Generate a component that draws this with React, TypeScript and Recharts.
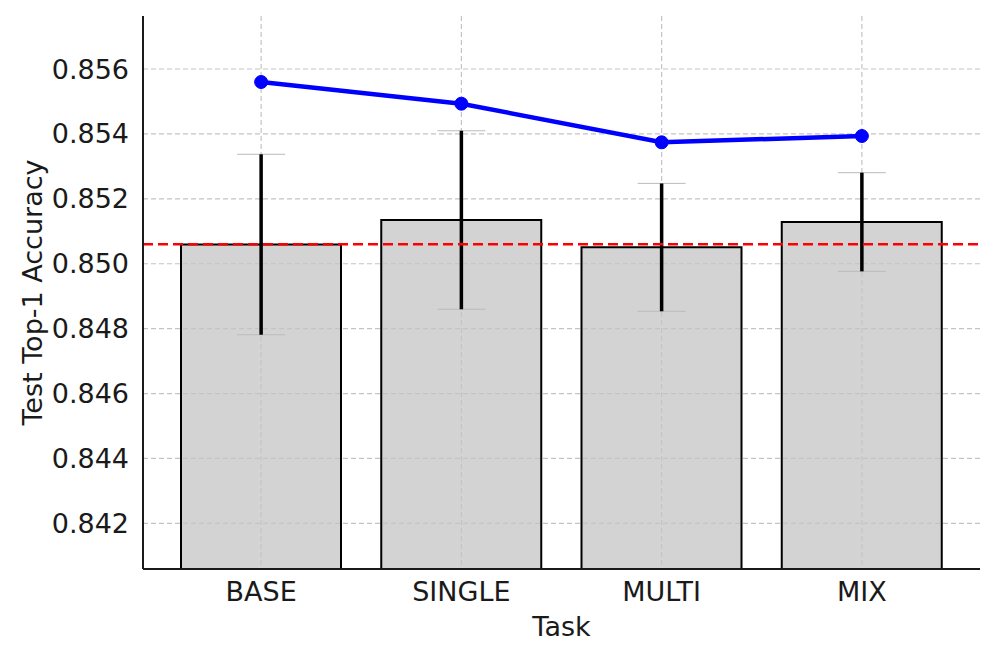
import React from 'react';
import { ComposedChart, Bar, Line, XAxis, YAxis, CartesianGrid, ErrorBar, ReferenceLine } from 'recharts';

const tasks = ['BASE', 'SINGLE', 'MULTI', 'MIX'];
const meanAcc = [0.850592, 0.851347, 0.850505, 0.851285];
const stdAcc = [0.00278, 0.00275, 0.00197, 0.00152];
const bestAcc = [0.855599, 0.854931, 0.853741, 0.853935];
const baselineAcc = 0.8506;
const yTicks = [0.842, 0.844, 0.846, 0.848, 0.85, 0.852, 0.854, 0.856];
const yDomain = [0.840594, 0.857633];

const data = tasks.map((t, i) => ({ task: t, mean: meanAcc[i], err: stdAcc[i], best: bestAcc[i] }));

const FONT = 'DejaVu Sans';

const YLabel = (props: any) => {
  const vb = props.viewBox || {};
  const cy = vb.y + vb.height / 2;
  const cx = 32;
  return (
    <text x={cx} y={cy} transform={`rotate(-90, ${cx}, ${cy})`} textAnchor="middle" dominantBaseline="central"
      fontFamily={FONT} fontSize={27} fill="#1a1a1a">Test Top-1 Accuracy</text>
  );
};

export default function App() {
  return (
    <div style={{ position: 'absolute', left: 0, top: 0, width: 998, height: 659, background: '#fff' }}>
      <ComposedChart width={998} height={659} data={data} margin={{ top: 16, right: 18, left: 0, bottom: 0 }}>
        <XAxis dataKey="task" padding={{ left: 18, right: 18 }} height={90} axisLine={{ stroke: '#1a1a1a', strokeWidth: 2 }}
          tickLine={false} tick={{ fontFamily: FONT, fontSize: 27, fill: '#1a1a1a' }} tickMargin={7}
          label={{ value: 'Task', position: 'insideBottom', offset: 23, style: { fontFamily: FONT, fontSize: 27, fill: '#1a1a1a' } }} />
        <YAxis type="number" domain={yDomain} allowDataOverflow ticks={yTicks} width={143}
          tickFormatter={(v: number) => v.toFixed(3)} axisLine={{ stroke: '#1a1a1a', strokeWidth: 2 }} tickLine={false}
          tick={{ fontFamily: FONT, fontSize: 27, fill: '#1a1a1a' }} tickMargin={8}
          label={{ content: YLabel }} />
        <Bar dataKey="mean" barSize={160} fill="#d3d3d3" stroke="#000" strokeWidth={2} isAnimationActive={false} />
        <CartesianGrid stroke="#c4c4c4" strokeDasharray="5 3" strokeWidth={1.2} zIndex={320} syncWithTicks />
        <Line dataKey="mean" stroke="none" dot={false} activeDot={false} isAnimationActive={false} legendType="none">
          <ErrorBar dataKey="err" width={24} stroke="#bbbbbb" strokeWidth={1} isAnimationActive={false} />
          <ErrorBar dataKey="err" width={0} stroke="#000" strokeWidth={3.5} isAnimationActive={false} />
        </Line>
        <ReferenceLine y={baselineAcc} stroke="#ff0000" strokeWidth={2.5} strokeDasharray="10 5" />
        <Line dataKey="best" stroke="#0000ff" strokeWidth={4.5} dot={{ r: 6.5, fill: '#0000ff', stroke: '#0000ff', strokeWidth: 1 }}
          activeDot={false} isAnimationActive={false} />
      </ComposedChart>
    </div>
  );
}
